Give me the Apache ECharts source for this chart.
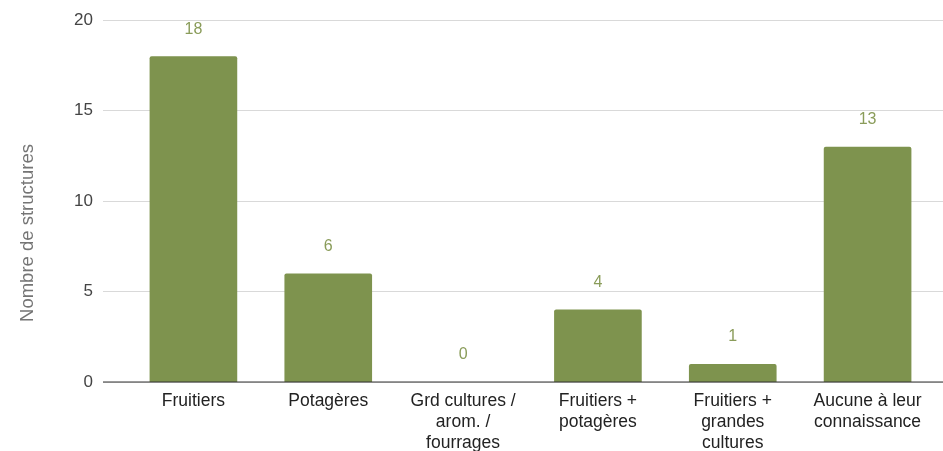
<!DOCTYPE html>
<html>
<head>
<meta charset="utf-8">
<script src="https://cdn.jsdelivr.net/npm/echarts@6/dist/echarts.min.js"></script>
<style>
  html, body { margin: 0; padding: 0; background: #fff; }
  #chart { width: 943px; height: 451px; }
</style>
</head>
<body>
<div id="chart"></div>
<script>
// données
var categories = [
  'Fruitiers',
  'Potagères',
  'Grd cultures /\narom. /\nfourrages',
  'Fruitiers +\npotagères',
  'Fruitiers +\ngrandes\ncultures',
  'Aucune à leur\nconnaissance'
];
var values = [18, 6, 0, 4, 1, 13];
var yTicks = [0, 5, 10, 15, 20];

var font = '"Liberation Sans", Arial, sans-serif';
var myChart = echarts.init(document.getElementById('chart'));

var option = {
  animation: false,
  textStyle: { fontFamily: font },
  grid: [
    // grille des barres
    { left: 126, right: 8, top: 20, bottom: 69, outerBoundsMode: 'none' },
    // grille de fond (lignes horizontales sur toute la largeur)
    { left: 103, right: 0, top: 20, bottom: 69, outerBoundsMode: 'none' }
  ],
  xAxis: [
    {
      type: 'category',
      gridIndex: 0,
      data: categories,
      axisTick: { show: false },
      axisLine: { show: false },
      axisLabel: {
        interval: 0,
        color: '#222',
        fontSize: 17.5,
        lineHeight: 21,
        margin: 9,
        fontFamily: font
      }
    },
    {
      type: 'value',
      gridIndex: 1,
      min: 0,
      max: 1,
      show: false
    }
  ],
  yAxis: [
    {
      type: 'value',
      gridIndex: 0,
      min: yTicks[0],
      max: yTicks[yTicks.length - 1],
      interval: 5,
      axisLabel: { show: false },
      axisLine: { show: false },
      axisTick: { show: false },
      splitLine: { show: false }
    },
    {
      type: 'value',
      gridIndex: 1,
      min: yTicks[0],
      max: yTicks[yTicks.length - 1],
      interval: 5,
      axisLine: { show: false },
      axisTick: { show: false },
      axisLabel: {
        color: '#444',
        fontSize: 17,
        margin: 10,
        fontFamily: font
      },
      splitLine: {
        lineStyle: { color: '#d9d9d9', width: 1 }
      }
    }
  ],
  graphic: [
    {
      type: 'text',
      x: 28,
      y: 233,
      rotation: Math.PI / 2,
      style: {
        text: 'Nombre de structures',
        fill: '#757575',
        font: '18.5px ' + font,
        textAlign: 'center',
        textVerticalAlign: 'middle'
      }
    },
    {
      type: 'line',
      shape: { x1: 103, y1: 382, x2: 943, y2: 382 },
      style: { stroke: '#333', lineWidth: 1 },
      z: 10
    }
  ],
  series: [
    {
      type: 'bar',
      xAxisIndex: 0,
      yAxisIndex: 0,
      data: values,
      barCategoryGap: '35%',
      itemStyle: {
        color: '#7e934e',
        borderRadius: [2, 2, 0, 0]
      },
      label: {
        show: true,
        position: 'top',
        distance: 19,
        color: '#8a9c5a',
        fontSize: 16,
        fontFamily: font
      }
    }
  ]
};

myChart.setOption(option);
</script>
</body>
</html>
